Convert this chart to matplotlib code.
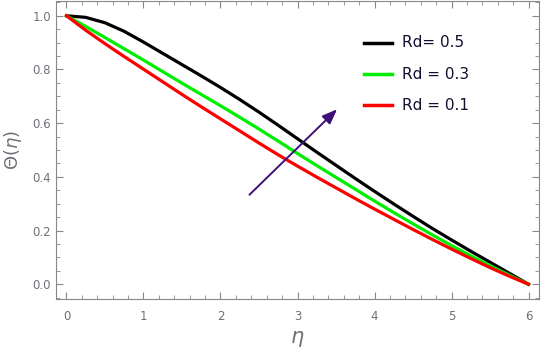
import numpy as np
import matplotlib.pyplot as plt
from matplotlib.ticker import MultipleLocator

# values
eta = [0, 0.25, 0.5, 0.75, 1, 1.25, 1.5, 1.75, 2, 2.25, 2.5, 2.75, 3,
       3.25, 3.5, 3.75, 4, 4.25, 4.5, 4.75, 5, 5.25, 5.5, 5.75, 6]
theta_05 = [1.0, 0.994, 0.974, 0.942, 0.902, 0.860, 0.818, 0.776, 0.733, 0.688,
            0.641, 0.592, 0.542, 0.492, 0.443, 0.394, 0.346, 0.299, 0.253, 0.208,
            0.165, 0.123, 0.082, 0.041, 0.0]
theta_03 = [1.0, 0.960, 0.919, 0.877, 0.835, 0.792, 0.749, 0.707, 0.665, 0.622,
            0.578, 0.533, 0.487, 0.442, 0.398, 0.354, 0.310, 0.267, 0.225, 0.184,
            0.144, 0.106, 0.069, 0.034, 0.0]
theta_01 = [1.0, 0.946, 0.896, 0.848, 0.801, 0.754, 0.707, 0.661, 0.616, 0.571,
            0.526, 0.482, 0.440, 0.399, 0.359, 0.319, 0.280, 0.242, 0.204, 0.167,
            0.131, 0.096, 0.062, 0.030, 0.0]
labels = ["Rd= 0.5", "Rd = 0.3", "Rd = 0.1"]
colors = ["black", "#00ee00", "red"]

# arrow (start, end) in data coordinates
arrow_start = (2.35, 0.326)
arrow_end = (3.54, 0.659)

gray = "#707078"

fig = plt.figure(figsize=(5.41, 3.54), dpi=100)
ax = fig.add_axes([56 / 541, 1 - 299 / 354, (539 - 56) / 541, (299 - 1) / 354])

for y, c in zip([theta_05, theta_03, theta_01], colors):
    ax.plot(eta, y, color=c, lw=2.3)

ax.annotate("", xy=arrow_end, xytext=arrow_start,
            arrowprops=dict(arrowstyle="-|>,head_length=0.9,head_width=0.35",
                            color="#40107a", lw=1.4))

# legend drawn by hand like the original
for i, (lab, c) in enumerate(zip(labels, colors)):
    yy = 0.86 - i * 0.105
    ax.plot([0.638, 0.695], [yy, yy], transform=ax.transAxes, color=c, lw=2.5)
    ax.text(0.717, yy, lab, transform=ax.transAxes, va="center", ha="left",
            fontsize=11, color="#101030")

ax.set_xlim(-0.136, 6.136)
ax.set_ylim(-0.055, 1.055)
ax.xaxis.set_major_locator(MultipleLocator(1))
ax.xaxis.set_minor_locator(MultipleLocator(0.2))
ax.yaxis.set_major_locator(MultipleLocator(0.2))
ax.yaxis.set_minor_locator(MultipleLocator(0.05))
ax.tick_params(which="both", direction="in", top=True, right=True,
               colors="#888888", labelcolor=gray, labelsize=8.5)
ax.tick_params(which="major", length=5)
ax.tick_params(which="minor", length=3)
ax.tick_params(axis="x", pad=8)
ax.yaxis.set_major_formatter(plt.FuncFormatter(lambda v, p: f"{v:.1f}"))
for s in ax.spines.values():
    s.set_color("#888888")

ax.set_xlabel(r"$\eta$", fontsize=15, color=gray, labelpad=4)
ax.set_ylabel(r"$\Theta(\eta)$", fontsize=13, color=gray, labelpad=6)

fig.savefig("out.png", dpi=100)
